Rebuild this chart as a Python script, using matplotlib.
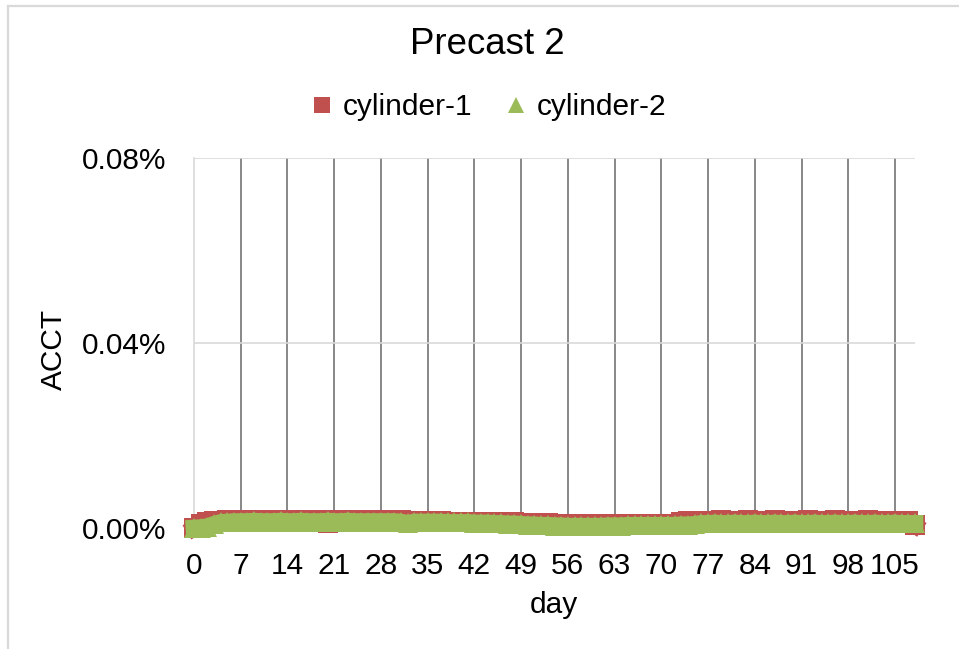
import matplotlib
matplotlib.use('Agg')
import matplotlib.pyplot as plt
from matplotlib.lines import Line2D
from matplotlib.ticker import FuncFormatter

plt.rcParams['font.family'] = ['Liberation Sans', 'DejaVu Sans']

# --- dados (ACCT em %) ---
days = list(range(0, 109))
cyl1 = [0.0000, 0.0009, 0.0013, 0.0015, 0.0016, 0.0017, 0.0017,
        0.0017, 0.0017, 0.0018, 0.0017, 0.0017, 0.0017, 0.0018,
        0.0017, 0.0018, 0.0017, 0.0018, 0.0018, 0.0017, 0.0010,
        0.0018, 0.0018, 0.0018, 0.0017, 0.0018, 0.0018, 0.0017,
        0.0017, 0.0018, 0.0017, 0.0017, 0.0016, 0.0016, 0.0015,
        0.0015, 0.0015, 0.0015, 0.0014, 0.0014, 0.0014, 0.0014,
        0.0013, 0.0013, 0.0013, 0.0013, 0.0012, 0.0012, 0.0012,
        0.0010, 0.0011, 0.0010, 0.0010, 0.0010, 0.0009, 0.0009,
        0.0008, 0.0008, 0.0008, 0.0008, 0.0008, 0.0008, 0.0008,
        0.0009, 0.0008, 0.0009, 0.0009, 0.0009, 0.0009, 0.0009,
        0.0009, 0.0009, 0.0009, 0.0012, 0.0016, 0.0016, 0.0016,
        0.0016, 0.0016, 0.0017, 0.0016, 0.0016, 0.0016, 0.0017,
        0.0016, 0.0016, 0.0016, 0.0017, 0.0016, 0.0016, 0.0016,
        0.0016, 0.0017, 0.0016, 0.0016, 0.0016, 0.0017, 0.0016,
        0.0016, 0.0016, 0.0016, 0.0017, 0.0016, 0.0016, 0.0016,
        0.0016, 0.0016, 0.0016, 0.0006]
cyl2 = [0.0000, 0.0001, 0.0003, 0.0008, 0.0012, 0.0013, 0.0014,
        0.0014, 0.0014, 0.0015, 0.0014, 0.0014, 0.0014, 0.0015,
        0.0014, 0.0014, 0.0015, 0.0014, 0.0014, 0.0014, 0.0015,
        0.0014, 0.0014, 0.0015, 0.0014, 0.0014, 0.0014, 0.0014,
        0.0014, 0.0014, 0.0014, 0.0013, 0.0010, 0.0013, 0.0013,
        0.0013, 0.0013, 0.0013, 0.0012, 0.0012, 0.0012, 0.0012,
        0.0011, 0.0011, 0.0011, 0.0010, 0.0010, 0.0009, 0.0009,
        0.0008, 0.0007, 0.0007, 0.0006, 0.0006, 0.0005, 0.0005,
        0.0004, 0.0004, 0.0004, 0.0004, 0.0004, 0.0004, 0.0005,
        0.0005, 0.0005, 0.0006, 0.0006, 0.0006, 0.0006, 0.0006,
        0.0006, 0.0006, 0.0006, 0.0007, 0.0007, 0.0008, 0.0010,
        0.0010, 0.0011, 0.0010, 0.0010, 0.0011, 0.0010, 0.0010,
        0.0011, 0.0010, 0.0010, 0.0011, 0.0010, 0.0010, 0.0011,
        0.0010, 0.0010, 0.0011, 0.0010, 0.0010, 0.0011, 0.0010,
        0.0010, 0.0011, 0.0010, 0.0010, 0.0011, 0.0010, 0.0010,
        0.0011, 0.0010, 0.0010, 0.0010]
x_ticks = list(range(0, 106, 7))
y_ticks = [0.0, 0.04, 0.08]

RED = '#C0504D'
GREEN = '#9BBB59'
FS = 21.5

fig = plt.figure(figsize=(9.59, 6.49), dpi=100)
W, H = 959, 649
ax = fig.add_axes([194 / W, 1 - 528 / H, (915 - 194) / W, (528 - 158) / H])

# linha grossa + marcadores, como no gráfico original do Excel
ax.plot(days, cyl1, ls='-', lw=12, solid_joinstyle='round', marker='s', ms=14, mew=0,
        color=RED, clip_on=False, zorder=3)
ax.plot(days, cyl2, ls='-', lw=12, solid_joinstyle='round', marker='^', ms=14, mew=0,
        color=GREEN, clip_on=False, zorder=4)

ax.set_xlim(0, 108)
ax.set_ylim(0, 0.08)
ax.set_xticks(x_ticks)
ax.set_yticks(y_ticks)
ax.yaxis.set_major_formatter(FuncFormatter(lambda v, p: f'{v:.2f}%'))

# grades: verticais escuras, horizontais claras
for xt in x_ticks[1:]:
    ax.axvline(xt, color='#878787', lw=1.4, zorder=1)
for yt in y_ticks:
    ax.axhline(yt, color='#D9D9D9', lw=1.2, zorder=1)

for s in ['top', 'right', 'bottom']:
    ax.spines[s].set_visible(False)
ax.spines['left'].set_color('#D9D9D9')
ax.spines['left'].set_linewidth(1.2)

ax.tick_params(axis='both', length=0, labelsize=FS)
ax.tick_params(axis='y', pad=20)
ax.tick_params(axis='x', pad=17)

fig.text(487 / W, 1 - 45 / H, 'Precast 2', fontsize=26.4, ha='center', va='center')
fig.text(54 / W, 1 - 350 / H, 'ACCT', fontsize=FS, rotation=90, ha='center', va='center')
fig.text(554 / W, 1 - 605 / H, 'day', fontsize=FS, ha='center', va='center')

handles = [Line2D([], [], ls='none', marker='s', ms=12.2, mew=0, color=RED),
           Line2D([], [], ls='none', marker='^', ms=12.2, mew=0, color=GREEN)]
fig.legend(handles, ['cylinder-1', 'cylinder-2'], loc='center', ncol=2,
           bbox_to_anchor=(489 / W, 1 - 107 / H), frameon=False, fontsize=FS,
           handlelength=0.7, handletextpad=0.35, columnspacing=1.1, borderpad=0)

# borda da área do gráfico (cortada à direita e embaixo)
fig.add_artist(Line2D([8 / W, 1], [1 - 6 / H, 1 - 6 / H], color='#D9D9D9', lw=1.6))
fig.add_artist(Line2D([8 / W, 8 / W], [0, 1 - 6 / H], color='#D9D9D9', lw=1.6))

fig.savefig('out.png', dpi=100)
